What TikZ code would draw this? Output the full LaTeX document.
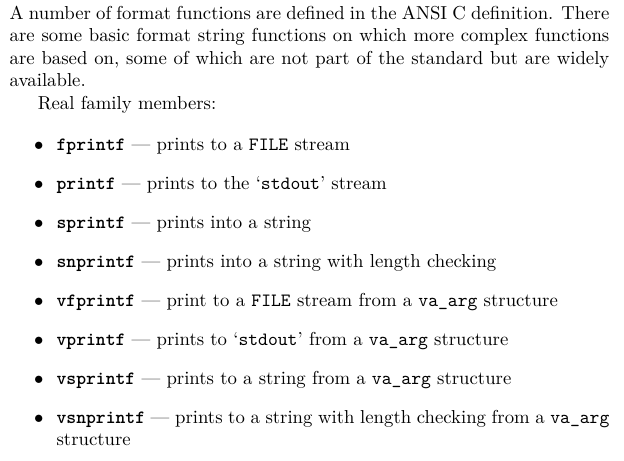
\documentclass[tikz,border=0pt]{standalone}
\usepackage{tikz}
\usepackage{enumitem}

\newcommand{\fn}[1]{\texttt{\bfseries #1}}

\begin{document}
\begin{tikzpicture}
  \useasboundingbox (0,0) rectangle (333pt,-246pt);
  % text block
  \node[anchor=north west, inner sep=0pt, text width=320pt, align=justify] (body) at (5pt,-3pt) {%
    A number of format functions are defined in the ANSI C definition. There are some basic format string functions on which more complex functions are based on, some of which are not part of the standard but are widely available.

    \hspace*{15pt}Real family members:
    \begin{itemize}[leftmargin=25pt, labelsep=7pt, itemsep=8.8pt, topsep=10pt, parsep=0pt, label={$\bullet$}]
      \item \fn{fprintf} --- prints to a \texttt{FILE} stream
      \item \fn{printf} --- prints to the `\texttt{stdout}' stream
      \item \fn{sprintf} --- prints into a string
      \item \fn{snprintf} --- prints into a string with length checking
      \item \fn{vfprintf} --- print to a \texttt{FILE} stream from a \texttt{va\_arg} structure
      \item \fn{vprintf} --- prints to `\texttt{stdout}' from a \texttt{va\_arg} structure
      \item \fn{vsprintf} --- prints to a string from a \texttt{va\_arg} structure
      \item \fn{vsnprintf} --- prints to a string with length checking from a \texttt{va\_arg} structure
    \end{itemize}};
\end{tikzpicture}
\end{document}
